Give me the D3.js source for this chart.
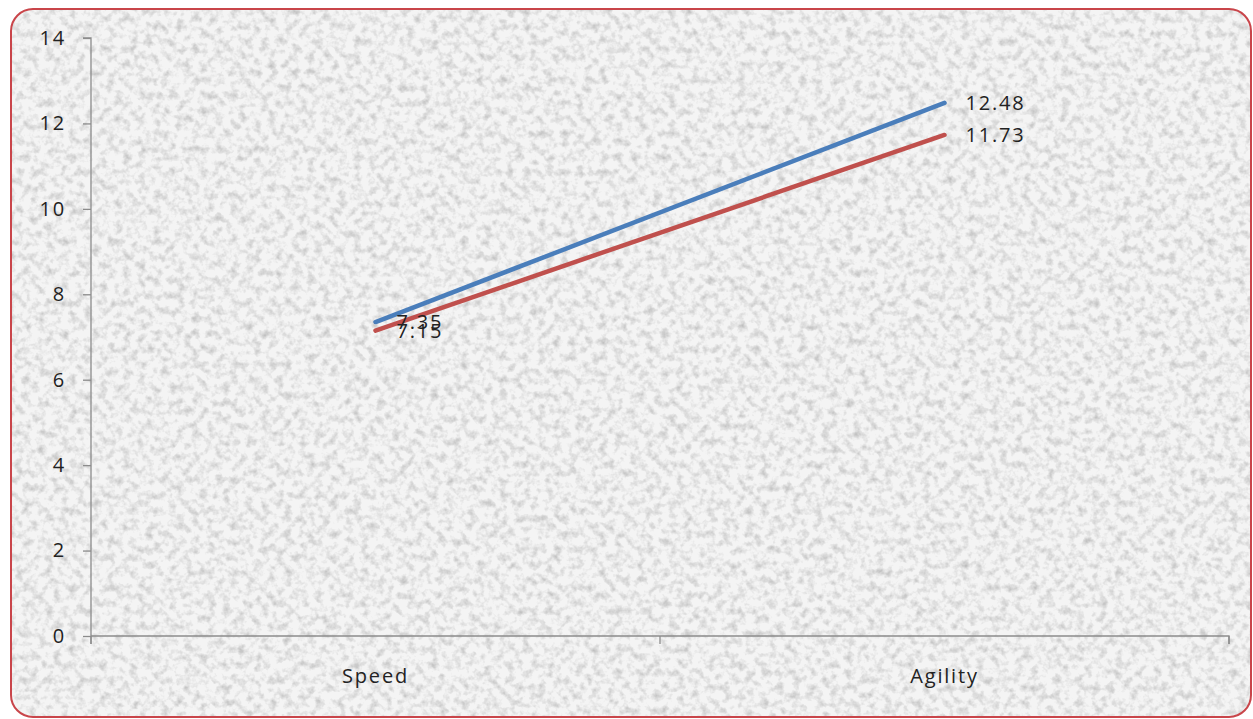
<!DOCTYPE html>
<html>
<head>
<meta charset="utf-8">
<script src="https://cdn.jsdelivr.net/npm/d3@7"></script>
<style>
  html, body { margin: 0; padding: 0; background: #ffffff; }
  svg { display: block; }
</style>
</head>
<body>
<script>
// Chart data
const categories = ["Speed", "Agility"];
const seriesA = [7.35, 12.48];   // blue line
const seriesB = [7.15, 11.73];   // red line
const yTicks = [0, 2, 4, 6, 8, 10, 12, 14];

const W = 1253, H = 719;
const svg = d3.select("body").append("svg").attr("width", W).attr("height", H);

// Granite-like paper texture
const defs = svg.append("defs");
const f = defs.append("filter").attr("id", "granite")
  .attr("x", 0).attr("y", 0).attr("width", "100%").attr("height", "100%");
f.append("feTurbulence").attr("type", "fractalNoise")
  .attr("baseFrequency", 0.13).attr("numOctaves", 3).attr("seed", 7).attr("result", "noise");
f.append("feColorMatrix").attr("in", "noise").attr("type", "matrix")
  .attr("values", "0 0 0 0 0  0 0 0 0 0  0 0 0 0 0  -1.2 0 0 0 0.68")
  .attr("result", "spots");
f.append("feComposite").attr("in", "spots").attr("in2", "SourceGraphic").attr("operator", "in");

const clip = defs.append("clipPath").attr("id", "frameClip");
clip.append("rect").attr("x", 11).attr("y", 9).attr("width", 1240).attr("height", 708).attr("rx", 22);

const bg = svg.append("g").attr("clip-path", "url(#frameClip)");
bg.append("rect").attr("x", 0).attr("y", 0).attr("width", W).attr("height", H).attr("fill", "#f4f4f4");
bg.append("rect").attr("x", 0).attr("y", 0).attr("width", W).attr("height", H)
  .attr("fill", "#b4b4b4").attr("filter", "url(#granite)").attr("opacity", 0.35);

// Outer frame
svg.append("rect").attr("x", 11).attr("y", 9).attr("width", 1240).attr("height", 708).attr("rx", 22)
  .attr("fill", "none").attr("stroke", "#c9454a").attr("stroke-width", 2);

const margin = { left: 91, right: 1229, top: 38, bottom: 636 };
const x = d3.scaleBand().domain(categories).range([margin.left, margin.right]);
const y = d3.scaleLinear().domain([0, 14]).range([margin.bottom, margin.top]);

const font = "'Open Sans', 'Liberation Sans', sans-serif";
const axisColor = "#8c8c8c";
const fs = 20;
const ls = "1.8px";

// Y axis
const yAxis = svg.append("g").attr("transform", `translate(${margin.left},0)`)
  .call(d3.axisLeft(y).tickValues(yTicks).tickSize(8).tickPadding(17).tickFormat(d3.format("d")));
yAxis.select(".domain").attr("stroke", axisColor).attr("stroke-width", 1.3).attr("d", `M-8,${y(14)}H0V${y(0)+8}`);
yAxis.selectAll(".tick line").attr("stroke", axisColor).attr("stroke-width", 1.3);
yAxis.selectAll(".tick text").attr("font-family", font).attr("font-size", fs).attr("fill", "#222")
  .attr("letter-spacing", ls);

// X axis
const xAxis = svg.append("g").attr("transform", `translate(0,${margin.bottom})`)
  .call(d3.axisBottom(x).tickSize(0).tickPadding(33));
xAxis.select(".domain").attr("stroke", axisColor).attr("stroke-width", 1.3)
  .attr("d", `M${margin.left},0H${margin.right}V8`);
xAxis.selectAll(".tick text").attr("font-family", font).attr("font-size", fs).attr("fill", "#222")
  .attr("letter-spacing", ls);
// category boundary ticks
const bounds = [x.range()[0], x.range()[0] + x.bandwidth(), x.range()[1]];
xAxis.selectAll("line.bound").data(bounds).join("line").attr("class", "bound")
  .attr("x1", d => d).attr("x2", d => d).attr("y1", 0).attr("y2", 8)
  .attr("stroke", axisColor).attr("stroke-width", 1.3);

const cx = d => x(d) + x.bandwidth() / 2;
const line = d3.line().x(d => cx(d.c)).y(d => y(d.v));

const series = [
  { values: seriesB, color: "#c0504d" },
  { values: seriesA, color: "#4a7ebb" }
];
series.forEach(s => {
  const pts = categories.map((c, i) => ({ c, v: s.values[i] }));
  svg.append("path").datum(pts).attr("d", line)
    .attr("fill", "none").attr("stroke", s.color).attr("stroke-width", 4.5).attr("stroke-linecap", "round");
});

// Value labels right of each point
[seriesA, seriesB].forEach(vals => {
  svg.append("g").selectAll("text").data(categories).join("text")
    .attr("x", c => cx(c) + 21)
    .attr("y", (c, i) => y(vals[i]))
    .attr("dy", "0.35em")
    .attr("font-family", font).attr("font-size", fs).attr("fill", "#222")
    .attr("letter-spacing", ls)
    .text((c, i) => vals[i].toFixed(2));
});
</script>
</body>
</html>
